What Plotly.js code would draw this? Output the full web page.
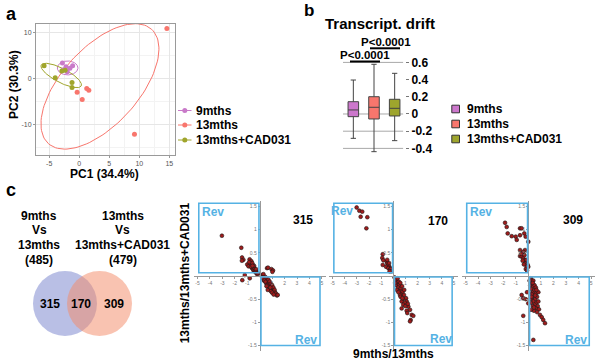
<!DOCTYPE html>
<html><head><meta charset="utf-8">
<script src="https://cdn.plot.ly/plotly-3.0.1.min.js"></script>
<style>html,body{margin:0;padding:0;background:#fff}#chart{width:600px;height:360px}</style>
</head><body><div id="chart"></div>
<script>
// ================= DATA =================
const groups = ['9mths', '13mths', '13mths+CAD031'];

// Panel a: PCA scores
const pc1_9mths = [-2.8, -1.1, -1.55, -2.35, -2.7, -2.0, -2.2];
const pc2_9mths = [3.3, 2.7, 2.2, 1.95, 1.8, 1.4, 2.5];
const pc1_13mths = [14.6, 9.2, -0.35, 0.5, 1.25, 1.6];
const pc2_13mths = [10.8, -12.2, -3.05, -4.6, -2.25, -2.6];
const pc1_cad = [-5.85, -4.0, -1.2, -1.2, -2.35, -2.9];
const pc2_cad = [2.7, 0.1, -0.95, -2.0, 1.75, 1.55];
const pcaTitleX = 'PC1 (34.4%)';
const pcaTitleY = 'PC2 (30.3%)';
const pcaTicksX = [-5, 0, 5, 10, 15];
const pcaTicksY = [-10, 0, 10];
// confidence ellipses (centre + two conjugate semi-axis vectors, data units)
const ellipse_9mths = {cx: -1.93, cy: 2.24, ux: 1.72, uy: 0, vx: 0, vy: 1.52};
const ellipse_13mths = {cx: 3.45, cy: -1.78, ux: 8.59, uy: 12.44, vx: -4.77, vy: 5.60};
const ellipse_cad = {cx: -3.0, cy: 0.6, ux: 3.33, uy: -2.28, vx: 0.54, vy: 1.35};

// Panel b: transcriptional drift box statistics
const drift_lower = [-0.283, -0.438, -0.31];
const drift_q1 = [-0.031, -0.058, -0.023];
const drift_median = [0.047, 0.078, 0.066];
const drift_q3 = [0.143, 0.201, 0.171];
const drift_upper = [0.395, 0.578, 0.473];
const driftTicks = [0.6, 0.4, 0.2, 0, -0.2, -0.4];
const driftGrid = [0.6, 0, -0.2, -0.4];
const driftTitle = 'Transcript. drift';
const driftPvals = ['P<0.0001', 'P<0.0001'];

// Panel c: Venn
const vennSets = [['9mths', 'Vs', '13mths'], ['13mths', 'Vs', '13mths+CAD031']];
const vennTotals = [485, 479];
const vennCounts = [315, 170, 309];

// Panel c: fold-change scatter plots
const fcCounts = [315, 170, 309];
const fcTitleX = '9mths/13mths';
const fcTitleY = '13mths/13mths+CAD031';
const fcTicksX = [-5, -4, -3, -2, -1, 1, 2, 3, 4, 5];
const fcTicksY = [-1.5, -1, -0.5, 0.5, 1, 1.5];
const revLabel = 'Rev';

const fc315_x = [-3.04, -1.48, -1.42, -1.31, -1.43, -1.0, -0.9, -0.81, -0.73, -0.67, -0.62, -0.55, -0.52, -0.47, -0.42, -0.40, -0.36, -0.33, -0.28, -0.25, -0.30, -0.45, -0.60, -0.20, -0.15, -0.70, -0.85, -0.58, -1.4, -0.8, -1.2,
  0.15, 0.25, 0.30, 0.35, 0.40, 0.45, 0.50, 0.55, 0.60, 0.65, 0.70, 0.75, 0.80, 0.85, 0.90, 0.95, 1.00, 1.05, 1.10, 1.15, 1.20, 1.25, 1.30, 1.38, 1.45, 0.50, 0.60, 0.70, 0.80, 0.90, 1.00, 0.35, 0.45, 0.55, 0.30, 0.20, 0.65, 0.85, 1.12,
  0.59, 0.94, 1.07, 0.67, 1.02];
const fc315_y = [0.87, 0.61, 0.40, 0.35, 0.33, 0.25, 0.21, 0.36, 0.27, 0.32, 0.17, 0.24, 0.13, 0.19, 0.15, 0.10, 0.12, 0.08, 0.10, 0.06, 0.15, 0.22, 0.28, 0.04, 0.06, 0.20, 0.30, 0.22, -0.09, -0.05, 0.02,
  0.02, -0.01, 0.04, -0.03, -0.06, -0.02, -0.08, -0.05, -0.10, -0.14, -0.08, -0.16, -0.12, -0.20, -0.17, -0.24, -0.20, -0.28, -0.25, -0.32, -0.30, -0.36, -0.38, -0.42, -0.41, -0.15, -0.20, -0.24, -0.28, -0.33, -0.36, -0.10, -0.12, -0.22, -0.07, -0.04, -0.30, -0.25, -0.40,
  0.17, 0.15, 0.12, 0.18, 0.09];

const fc170_x = [-3.02, -2.80, -2.56, -2.69, -2.14, -2.22,
  -0.87, -0.91, -0.82, -0.87, -0.54, -0.49, -0.41, -0.33, -0.27, -0.60, -0.41, -0.27, -0.21, -0.35, -0.50, -0.15, -0.30,
  0.10, 0.20, 0.33, 0.25, 0.49, 0.40, 0.61, 0.50, 0.77, 0.65, 0.88, 0.55, 1.05, 0.80, 1.10, 0.69, 0.95, 0.82, 1.24, 1.00, 0.69, 1.38, 1.10, 1.15, 1.52, 1.65, 1.43, 1.38, 0.30, 0.45, 0.72, 0.90, 1.20, 0.60, 0.35, 0.15, 0.42, 0.58, 0.75];
const fc170_y = [1.48, 1.41, 1.39, 1.28, 1.27, 1.03,
  0.47, 0.39, 0.34, 0.24, 0.31, 0.27, 0.24, 0.20, 0.17, 0.20, 0.17, 0.13, 0.15, 0.28, 0.35, 0.10, 0.10,
  -0.03, -0.08, -0.14, -0.20, -0.19, -0.25, -0.27, -0.33, -0.34, -0.40, -0.41, -0.41, -0.48, -0.50, -0.55, -0.55, -0.58, -0.62, -0.66, -0.65, -0.70, -0.73, -0.75, -0.80, -0.84, -0.86, -0.95, -0.98, -0.30, -0.12, -0.22, -0.30, -0.60, -0.45, -0.05, -0.15, -0.35, -0.15, -0.48];

const fc309_x = [-1.85, -1.72, -1.64, -1.32, -1.00, -0.66, -0.53, -0.66, -0.32, -0.21, -0.92, 0.0,
  -0.66, -0.26, -0.40, -0.66, -0.53, -0.40, -0.26, -0.13, -0.05, 0.0, -0.26, -0.13, -0.45, -0.20, -0.10, -0.35, -0.15, -0.55, -0.30,
  0.10, 0.20, 0.15, 0.30, 0.25, 0.40, 0.35, 0.50, 0.20, 0.45, 0.60, 0.30, 0.55, 0.70, 0.40, 0.65, 0.80, 0.50, 0.75, 0.35, 0.60, 0.85, 0.45, 0.70, 0.30, 0.50, 0.25, 0.40, 0.60, 0.15, 0.80, 0.20, 0.55, 0.35, 0.65, 0.25, 0.45,
  0.93, 1.07, 1.19, 1.33, -0.40, -0.53, 0.0, -0.40, 0.21, 0.40, -0.20, -0.10];
const fc309_y = [1.15, 1.06, 0.92, 0.86, 0.85, 1.03, 1.03, 0.88, 0.92, 0.85, 0.78, 0.74,
  0.56, 0.56, 0.52, 0.43, 0.42, 0.38, 0.34, 0.29, 0.24, 0.20, 0.27, 0.20, 0.33, 0.15, 0.12, 0.25, 0.35, 0.48, 0.45,
  -0.10, -0.05, -0.20, -0.15, -0.28, -0.22, -0.35, -0.30, -0.38, -0.42, -0.38, -0.48, -0.50, -0.45, -0.55, -0.58, -0.55, -0.62, -0.65, -0.65, -0.70, -0.72, -0.75, -0.78, -0.40, -0.20, -0.10, -0.10, -0.25, -0.50, -0.35, -0.58, -0.42, -0.15, -0.30, -0.45, -0.68,
  -0.84, -0.89, -0.95, -1.02, -0.48, -0.41, -0.59, -0.86, -0.73, -1.38, -0.50, -0.35];

// ================= STYLE / LAYOUT =================
const groupColors = ['#C97AC9', '#F8766D', '#A0A52C'];
const boxColors = ['#CC77CC', '#F8766D', '#9EA52D'];
const revBlue = '#55B2E4';
const dotRed = '#A01C1C';
const FONT = 'Liberation Sans, Arial, sans-serif';
const X = p => p / 600, Y = p => 1 - p / 360;
const fmt = v => String(v);

const traces = [];
const pcaX = [pc1_9mths, pc1_13mths, pc1_cad];
const pcaY = [pc2_9mths, pc2_13mths, pc2_cad];
const ellipses = [ellipse_9mths, ellipse_13mths, ellipse_cad];
groups.forEach((g, i) => {
  const e = ellipses[i], ex = [], ey = [];
  for (let k = 0; k <= 120; k++) {
    const t = 2 * Math.PI * k / 120;
    ex.push(e.cx + e.ux * Math.cos(t) + e.vx * Math.sin(t));
    ey.push(e.cy + e.uy * Math.cos(t) + e.vy * Math.sin(t));
  }
  traces.push({type: 'scatter', mode: 'lines', x: ex, y: ey, xaxis: 'x', yaxis: 'y',
    line: {color: groupColors[i], width: 1}, hoverinfo: 'skip', showlegend: false});
});
groups.forEach((g, i) => {
  traces.push({type: 'scatter', mode: 'markers', name: g, x: pcaX[i], y: pcaY[i], xaxis: 'x', yaxis: 'y',
    marker: {color: groupColors[i], size: 5}, showlegend: false});
});
groups.forEach((g, i) => {
  traces.push({type: 'box', name: g, x: [g], q1: [drift_q1[i]], median: [drift_median[i]], q3: [drift_q3[i]],
    lowerfence: [drift_lower[i]], upperfence: [drift_upper[i]], xaxis: 'x2', yaxis: 'y2',
    fillcolor: boxColors[i], line: {color: '#444', width: 1}, whiskerwidth: 0.5, boxpoints: false, showlegend: false});
});
const fcData = [[fc315_x, fc315_y], [fc170_x, fc170_y], [fc309_x, fc309_y]];
fcData.forEach((d, i) => {
  traces.push({type: 'scatter', mode: 'markers', x: d[0], y: d[1], xaxis: 'x' + (i + 3), yaxis: 'y' + (i + 3),
    marker: {color: dotRed, size: 3.8, line: {color: '#1a1a1a', width: 0.6}}, showlegend: false, name: String(fcCounts[i])});
});

const layout = {
  width: 600, height: 360, margin: {l: 0, r: 0, t: 0, b: 0},
  paper_bgcolor: '#fff', plot_bgcolor: 'rgba(0,0,0,0)', showlegend: false, boxmode: 'overlay', boxgap: 0.27,
  font: {family: FONT, color: '#000'},
  xaxis: {domain: [X(36), X(175)], range: [-7.2, 15.95], anchor: 'y', tickmode: 'array', tickvals: pcaTicksX, ticktext: pcaTicksX.map(fmt),
    showgrid: true, gridcolor: '#E6E6E6', minor: {tickmode: 'linear', tick0: -2.5, dtick: 5, showgrid: true, gridcolor: '#F3F3F3'},
    zeroline: false, showline: true, mirror: true, linecolor: '#9a9a9a', ticks: 'outside', ticklen: 2, tickcolor: '#9a9a9a',
    tickfont: {size: 7, color: '#555'}},
  yaxis: {domain: [Y(155), Y(24)], range: [-16.7, 11.8], anchor: 'x', tickmode: 'array', tickvals: pcaTicksY, ticktext: pcaTicksY.map(fmt),
    showgrid: true, gridcolor: '#E6E6E6', minor: {tickmode: 'linear', tick0: -5, dtick: 10, showgrid: true, gridcolor: '#F3F3F3'},
    zeroline: false, showline: true, mirror: true, linecolor: '#9a9a9a', ticks: 'outside', ticklen: 2, tickcolor: '#9a9a9a',
    tickfont: {size: 7, color: '#555'}},
  xaxis2: {domain: [X(343), X(405)], anchor: 'y2', type: 'category', categoryarray: groups, showticklabels: false,
    showgrid: false, zeroline: false, showline: false, ticks: ''},
  yaxis2: {domain: [Y(160), Y(55)], range: [-0.535, 0.686], anchor: 'x2', side: 'right', tickmode: 'array',
    tickvals: driftTicks, ticktext: driftTicks.map(fmt), showgrid: false, zeroline: false, showline: false,
    ticks: 'outside', ticklen: 3, tickcolor: '#777', tickfont: {size: 12, color: '#000', weight: 'bold'}},
  shapes: [], annotations: []
};
const fcDom = [[193.8, 325.6, 259.7], [329.0, 457.6, 393.3], [461.7, 594.9, 528.3]];
fcDom.forEach((d, i) => {
  const n = i + 3;
  layout['xaxis' + n] = {domain: [X(d[0]), X(d[1])], range: [-5.3, 5.3], anchor: 'free', position: Y(276),
    tickmode: 'array', tickvals: fcTicksX, ticktext: fcTicksX.map(fmt), showgrid: false, zeroline: false,
    showline: true, linecolor: '#999', linewidth: 1, ticks: 'outside', ticklen: 2, tickcolor: '#999',
    tickfont: {size: 5, color: '#777'}};
  layout['yaxis' + n] = {domain: [Y(351), Y(201)], range: [-1.62, 1.62], anchor: 'free', position: X(d[2]),
    tickmode: 'array', tickvals: fcTicksY, ticktext: fcTicksY.map(fmt), showgrid: false, zeroline: false,
    showline: true, linecolor: '#999', linewidth: 1, ticks: 'outside', ticklen: 2, tickcolor: '#999',
    tickfont: {size: 5, color: '#777'}};
  layout.shapes.push({type: 'rect', xref: 'x' + n, yref: 'y' + n, x0: -4.9, x1: -0.06, y0: 0.07, y1: 1.57,
    line: {color: revBlue, width: 1.6}});
  layout.shapes.push({type: 'rect', xref: 'x' + n, yref: 'y' + n, x0: 0.1, x1: 4.85, y0: -1.5, y1: -0.02,
    line: {color: revBlue, width: 1.6}});
});

const S = layout.shapes, A = layout.annotations;
function txt(text, x, y, size, opts) {
  A.push(Object.assign({xref: 'paper', yref: 'paper', x: X(x), y: Y(y), text: text, showarrow: false,
    xanchor: 'center', yanchor: 'middle', font: {size: size, family: FONT, color: '#000'}}, opts || {}));
}
const esc = s => s.replace(/</g, '&lt;');

// panel letters
txt('<b>a</b>', 11, 14, 18);
txt('<b>b</b>', 308.5, 10.5, 17);
txt('<b>c</b>', 11, 190, 18);

// panel a titles + legend
txt('<b>' + pcaTitleY + '</b>', 14, 85, 12, {textangle: -90});
txt('<b>' + pcaTitleX + '</b>', 104, 174, 12);
const legA = [110.5, 125, 140];
groups.forEach((g, i) => {
  S.push({type: 'line', xref: 'paper', yref: 'paper', x0: X(178), x1: X(191.5), y0: Y(legA[i]), y1: Y(legA[i]),
    line: {color: groupColors[i], width: 1}});
  S.push({type: 'circle', xref: 'paper', yref: 'paper', x0: X(182.3), x1: X(187.3), y0: Y(legA[i] + 2.5), y1: Y(legA[i] - 2.5),
    fillcolor: groupColors[i], line: {width: 0}});
  txt('<b>' + g + '</b>', 194, legA[i], 12, {xanchor: 'left'});
});

// panel b title, grid, brackets, legend
txt('<b>' + driftTitle + '</b>', 380, 24, 15);
driftGrid.forEach(v => S.push({type: 'line', xref: 'x2 domain', yref: 'y2', x0: 0, x1: 0.97, y0: v, y1: v,
  line: {color: '#A8A8A8', width: 1}, layer: 'below'}));
S.push({type: 'line', xref: 'paper', yref: 'paper', x0: X(350), x1: X(380), y0: Y(61.5), y1: Y(61.5), line: {color: '#000', width: 2}});
S.push({type: 'line', xref: 'paper', yref: 'paper', x0: X(370), x1: X(400), y0: Y(48.3), y1: Y(48.3), line: {color: '#000', width: 2}});
txt('<b>' + esc(driftPvals[0]) + '</b>', 365, 54.8, 11.5);
txt('<b>' + esc(driftPvals[1]) + '</b>', 385.5, 41.6, 11.5);
const legB = [109, 124, 139];
groups.forEach((g, i) => {
  S.push({type: 'rect', xref: 'paper', yref: 'paper', x0: X(451.8), x1: X(459.5), y0: Y(legB[i] + 3.8), y1: Y(legB[i] - 3.8),
    fillcolor: boxColors[i], line: {color: '#333', width: 1}});
  txt('<b>' + g + '</b>', 465, legB[i], 12, {xanchor: 'left'});
});

// panel c Venn
S.push({type: 'circle', xref: 'paper', yref: 'paper', x0: X(33), x1: X(97), y0: Y(336), y1: Y(271),
  fillcolor: 'rgba(120,132,205,0.52)', line: {width: 0}});
S.push({type: 'circle', xref: 'paper', yref: 'paper', x0: X(67), x1: X(132), y0: Y(336), y1: Y(271),
  fillcolor: 'rgba(243,140,105,0.52)', line: {width: 0}});
const vennCx = [39, 122.5], vennLineY = [215.5, 230, 245, 260];
vennSets.forEach((set, i) => {
  set.forEach((s, k) => txt('<b>' + s + '</b>', vennCx[i], vennLineY[k], 12));
  txt('<b>(' + vennTotals[i] + ')</b>', vennCx[i], vennLineY[3], 12);
});
[49.7, 81.2, 113.7].forEach((x, i) => txt('<b>' + vennCounts[i] + '</b>', x, 304.3, 12));

// scatter labels
txt('<b>' + fcTitleY + '</b>', 185, 273.3, 12, {textangle: -90});
txt('<b>' + fcTitleX + '</b>', 393, 354, 12);
[[303, 220], [438, 221], [573, 220]].forEach((p, i) => txt('<b>' + fcCounts[i] + '</b>', p[0], p[1], 12));
[[213, 211.7, 305.5, 340], [342, 210.7, 441.3, 339.3], [481.3, 211.7, 575.5, 340]].forEach(p => {
  txt('<b>' + revLabel + '</b>', p[0], p[1], 12, {font: {size: 12, family: FONT, color: revBlue}});
  txt('<b>' + revLabel + '</b>', p[2], p[3], 12, {font: {size: 12, family: FONT, color: revBlue}});
});

Plotly.newPlot('chart', traces, layout, {staticPlot: true, displayModeBar: false});
</script></body></html>
